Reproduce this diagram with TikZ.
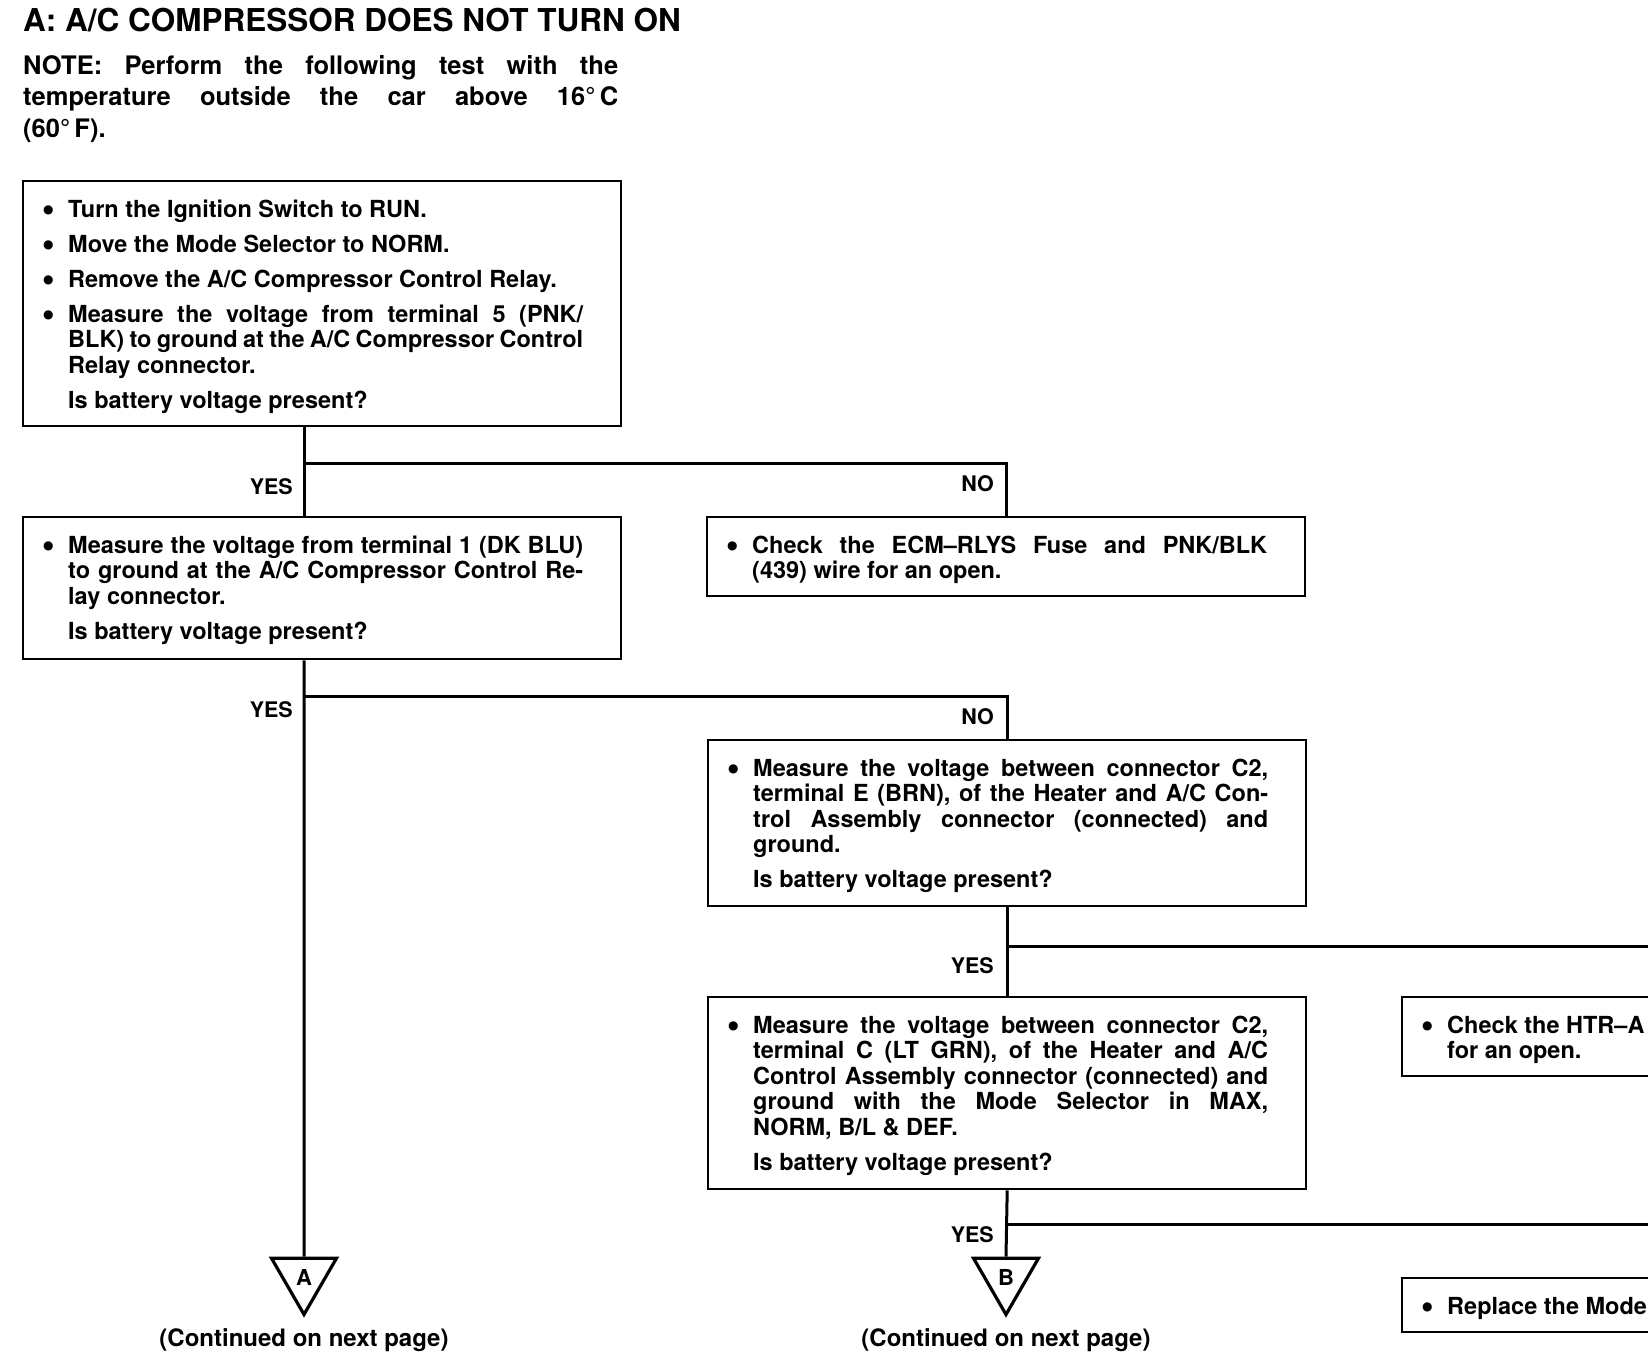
\documentclass[tikz,border=0pt]{standalone}
\usepackage{fontspec}
\usepackage{graphicx}
\setmainfont{TeX Gyre Heros}
\newfontfamily\symfont{DejaVu Sans}
\usetikzlibrary{shapes.geometric,positioning}

\newcommand\stepfont{\fontsize{23.5}{25.5}\selectfont\bfseries}
\newcommand\dotmark{\raisebox{3.6pt}{\symfont\fontsize{12}{12}\selectfont ●}}
\newcommand\bul{\par\hangindent=25pt\hangafter=1\noindent\rule{0pt}{18pt}\makebox[25pt][l]{\dotmark}}
\newcommand\qline{\par\hangindent=25pt\hangafter=0\noindent\rule{0pt}{18pt}}
\newcommand\stepbody[2]{\begin{minipage}[t][#1][t]{598pt}\stepfont
  \leftskip=20pt\rightskip=38pt\parskip=9.5pt\parindent=0pt\tolerance=9999
  \vspace*{18pt}#2\end{minipage}}

\tikzset{
  stepbox/.style={draw, line width=2.4pt, inner sep=0pt, anchor=north west},
  flow/.style={line width=3pt},
  lbl/.style={inner sep=0pt, font=\fontsize{21.5}{22}\selectfont\bfseries},
  cont/.style={inner sep=0pt, font=\fontsize{24}{26}\selectfont\bfseries},
  tri/.style={draw, line width=3.2pt, regular polygon, regular polygon sides=3,
    shape border rotate=180, minimum size=75pt, inner sep=0pt,
    font=\fontsize{22}{22}\selectfont\bfseries}
}

\begin{document}
\begin{tikzpicture}[x=1pt,y=-1pt]
 \fill[white] (0,0) rectangle (1648,1368);
 \useasboundingbox (0,0) rectangle (1648,1368);
 \clip (0,0) rectangle (1648,1368);

 \node[inner sep=0pt, anchor=base west, font=\fontsize{31.5}{34}\selectfont\bfseries] (title) at (23,31)
   {A: A/C COMPRESSOR DOES NOT TURN ON};
 \node[inner sep=0pt, anchor=base west, text width=595pt, align=justify,
   font=\fontsize{25.5}{31.5}\selectfont\bfseries] (note) at (23,74)
   {NOTE: Perform the following test with the\linebreak temperature outside the car above 16°\,C\linebreak (60°\,F).};

 \node[stepbox] (b1) at (22,180) {\stepbody{245pt}{%
   \bul Turn the Ignition Switch to RUN.
   \bul Move the Mode Selector to NORM.
   \bul Remove the A/C Compressor Control Relay.
   \bul Measure the voltage from terminal 5 (PNK/\linebreak BLK) to ground at the A/C Compressor Control\linebreak Relay connector.
   \qline Is battery voltage present?}};
 \node[stepbox] (b2) at (22,516) {\stepbody{142pt}{%
   \bul Measure the voltage from terminal 1 (DK BLU)\linebreak to ground at the A/C Compressor Control Re-\linebreak lay connector.
   \qline Is battery voltage present?}};
 \node[stepbox] (n1) at (706,516) {\stepbody{79pt}{%
   \bul Check the ECM--RLYS Fuse and PNK/BLK\linebreak (439) wire for an open.}};
 \node[stepbox] (b3) at (707,739) {\stepbody{166pt}{%
   \bul Measure the voltage between connector C2,\linebreak terminal E (BRN), of the Heater and A/C Con-\linebreak trol Assembly connector (connected) and\linebreak ground.
   \qline Is battery voltage present?}};
 \node[stepbox] (b4) at (707,996) {\stepbody{192pt}{%
   \bul Measure the voltage between connector C2,\linebreak terminal C (LT GRN), of the Heater and A/C\linebreak Control Assembly connector (connected) and\linebreak ground with the Mode Selector in MAX,\linebreak NORM, B/L \& DEF.
   \qline Is battery voltage present?}};
 \node[stepbox] (n3) at (1401,996) {\stepbody{79pt}{%
   \bul Check the HTR--A\newline for an open.}};
 \node[stepbox] (n4) at (1401,1277) {\stepbody{54pt}{%
   \bul Replace the Mode}};

 \node[tri] (tA) at (304,1277) {A};
 \node[tri] (tB) at (1006,1277) {B};
 \node[cont, anchor=base] (cA) at (304,1346) {(Continued on next page)};
 \node[cont, anchor=base] (cB) at (1006,1346) {(Continued on next page)};

 \coordinate (j1) at (304,463);
 \coordinate (j2) at (304,696);
 \coordinate (j3) at (1006,946);
 \coordinate (j4) at (1006,1224);
 \coordinate (e3) at (1660,946);
 \coordinate (e4) at (1660,1224);

 \draw[flow] (b1.south -| j1) -- (b2.north -| j1);
 \draw[flow] (j1) -| (n1.north);
 \draw[flow] (b2.south -| j2) -- (tA.north);
 \draw[flow] (j2) -| (b3.north);
 \draw[flow] (b3.south) -- (b4.north);
 \draw[flow] (j3) -- (e3);
 \draw[flow] (b4.south) -- (tB.north);
 \draw[flow] (j4) -- (e4);

 \node[lbl, anchor=east] (yes1) at (293,487) {YES};
 \node[lbl, anchor=east] (no1) at (994,484) {NO};
 \node[lbl, anchor=east] (yes2) at (293,710) {YES};
 \node[lbl, anchor=east] (no2) at (994,717) {NO};
 \node[lbl, anchor=east] (yes3) at (994,966) {YES};
 \node[lbl, anchor=east] (yes4) at (994,1235) {YES};
\end{tikzpicture}
\end{document}
